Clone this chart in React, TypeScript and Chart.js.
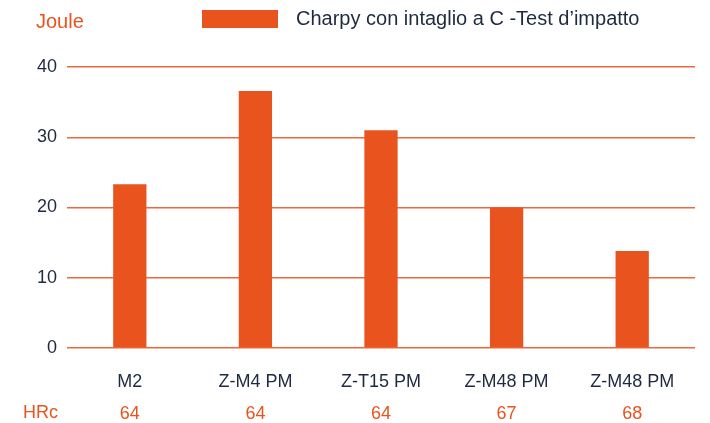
import React, { useEffect, useRef } from "react";
import { Chart, registerables } from "chart.js";

Chart.register(...registerables);

const categories = ["M2", "Z-M4 PM", "Z-T15 PM", "Z-M48 PM", "Z-M48 PM"];
const joules = [23.3, 36.6, 31.0, 20.0, 13.8];
const hrc = ["64", "64", "64", "67", "68"];
const seriesLabel = "Charpy con intaglio a C -Test d\u2019impatto";
const yMin = 0;
const yMax = 40;
const yStep = 10;

const ORANGE = "#E9531E";
const GRID = "rgba(236, 104, 62, 1)";
const NAVY = "#1E2A40";
const FONT = "'Liberation Sans', Arial, sans-serif";

const overlay = {
  id: "overlay",
  afterDraw(chart: any) {
    const ctx = chart.ctx;
    ctx.save();
    ctx.font = `20px ${FONT}`;
    ctx.textBaseline = "middle";
    ctx.fillStyle = ORANGE;
    ctx.textAlign = "left";
    ctx.fillText("Joule", 28, 14);
    const ds = chart.data.datasets[0];
    ctx.fillStyle = ds.backgroundColor;
    ctx.fillRect(194, 2, 76, 18);
    ctx.fillStyle = NAVY;
    ctx.fillText(ds.label, 288, 11);
    const x2 = chart.scales.x2;
    ctx.font = `18px ${FONT}`;
    ctx.fillStyle = ORANGE;
    ctx.textBaseline = "top";
    ctx.fillText("HRc", 15, x2.top + 11);
    ctx.restore();
  },
};

export default function App() {
  const ref = useRef<HTMLCanvasElement>(null);
  useEffect(() => {
    if (!ref.current) return;
    const chart = new Chart(ref.current, {
      type: "bar",
      data: {
        labels: categories,
        datasets: [
          {
            label: seriesLabel,
            data: joules,
            backgroundColor: ORANGE,
            borderWidth: 0,
            barPercentage: 1,
            categoryPercentage: 0.265,
            xAxisID: "x",
            yAxisID: "y",
          },
        ],
      },
      options: {
        animation: false,
        responsive: false,
        maintainAspectRatio: false,
        layout: { padding: { top: 59, right: 7, bottom: 0, left: 0 } },
        plugins: { legend: { display: false }, tooltip: { enabled: false } },
        scales: {
          x: {
            position: "bottom",
            grid: { display: false, drawTicks: false },
            border: { display: false },
            ticks: { color: NAVY, font: { family: FONT, size: 18 }, padding: 23, maxRotation: 0, autoSkip: false },
            afterFit: (s: any) => { s.height = 45; },
          },
          x2: {
            type: "category",
            position: "bottom",
            labels: hrc,
            offset: true,
            grid: { display: false, drawTicks: false },
            border: { display: false },
            ticks: { color: ORANGE, font: { family: FONT, size: 18 }, padding: 10, maxRotation: 0, autoSkip: false },
            afterFit: (s: any) => { s.height = 30; },
          },
          y: {
            min: yMin,
            max: yMax,
            grid: { color: () => GRID, drawTicks: false, lineWidth: 1.5 },
            border: { display: false },
            ticks: { stepSize: yStep, color: NAVY, font: { family: FONT, size: 18 }, padding: 10 },
            afterFit: (s: any) => { s.width = 59; },
          },
        },
      },
      plugins: [overlay],
    });
    return () => chart.destroy();
  }, []);
  return <canvas ref={ref} width={694} height={415} style={{ display: "block" }} />;
}
